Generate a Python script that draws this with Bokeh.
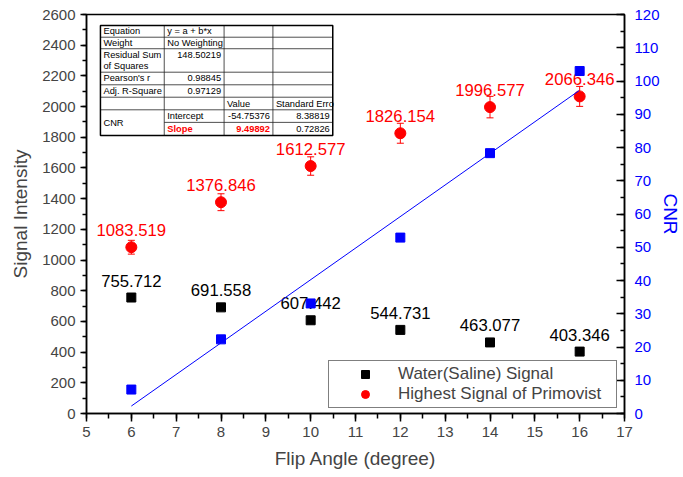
from bokeh.plotting import figure
from bokeh.models import (ColumnDataSource, Range1d, LinearAxis, Whisker, TeeHead,
                          Legend, LegendItem, SingleIntervalTicker)
from bokeh.core.properties import value
from bokeh.embed import file_html
from bokeh.resources import INLINE

# ---------------- data ----------------
flip_angle = [6, 8, 10, 12, 14, 16]
water_signal = [755.712, 691.558, 607.442, 544.731, 463.077, 403.346]
water_err = [25, 12, 10, 10, 8, 8]
primovist_signal = [1083.519, 1376.846, 1612.577, 1826.154, 1996.577, 2066.346]
primovist_err = [45, 55, 60, 65, 70, 65]
cnr = [7.2, 22.3, 33.1, 52.9, 78.3, 103.0]

fit_intercept = -54.75376
fit_slope = 9.49892
fit_intercept_err = 8.38819
fit_slope_err = 0.72826
residual_ss = "148.50219"
pearson_r = "0.98845"
adj_r2 = "0.97129"
equation = "y = a + b*x"
weighting = "No Weighting"

FONT = "Liberation Sans"
RED = "#FF0000"
BLUE = "#0000FF"

p = figure(width=683, height=477, x_range=Range1d(5, 17), y_range=Range1d(0, 2600),
           output_backend="svg", toolbar_location=None,
           min_border_left=86, min_border_right=57, min_border_top=14, min_border_bottom=64)
p.extra_y_ranges = {"cnr": Range1d(0, 120)}
p.grid.visible = False
p.outline_line_color = "black"
p.outline_line_width = 1.5
p.background_fill_color = "white"
p.border_fill_color = "white"

# ---- axes ----
xa = p.xaxis[0]
xa.ticker = SingleIntervalTicker(interval=1, num_minor_ticks=2)
xa.axis_label = "Flip Angle (degree)"
ya = p.yaxis[0]
ya.ticker = SingleIntervalTicker(interval=200, num_minor_ticks=2)
ya.axis_label = "Signal Intensity"

ra = LinearAxis(y_range_name="cnr", ticker=SingleIntervalTicker(interval=10, num_minor_ticks=2),
                axis_label="CNR")
p.add_layout(ra, "right")

for ax in (xa, ya, ra):
    ax.axis_line_width = 1.5
    ax.major_tick_line_width = 1.5
    ax.minor_tick_line_width = 1.5
    ax.axis_line_color = "black"
    ax.major_tick_line_color = "black"
    ax.minor_tick_line_color = "black"
    ax.major_label_text_font = FONT
    ax.major_label_text_font_size = "15px"
    ax.axis_label_text_font = FONT
    ax.axis_label_text_font_size = "19px"
    ax.axis_label_text_font_style = "normal"

xa.major_tick_in = 0; xa.major_tick_out = 8
xa.minor_tick_in = 0; xa.minor_tick_out = 5
xa.major_label_standoff = 5
xa.axis_label_standoff = 8

ya.major_tick_in = 0; ya.major_tick_out = 6
ya.minor_tick_in = 0; ya.minor_tick_out = 4
ya.major_label_standoff = 5
ya.axis_label_standoff = 8

ra.major_tick_in = 8; ra.major_tick_out = 0
ra.minor_tick_in = 4; ra.minor_tick_out = 0
ra.major_label_standoff = 10
ra.axis_label_standoff = -3
ra.axis_label_orientation = "vertical"
ra.major_label_text_color = BLUE
ra.axis_label_text_color = BLUE

# ---- stats table (Origin style) ----
tx = [5.311, 6.734, 8.069, 9.158, 10.493]
ty = [2528, 2452, 2377, 2224, 2142, 2061, 1979, 1897, 1812]
rc = [(ty[i] + ty[i + 1]) / 2 for i in range(8)]

p.quad(left=[tx[0]], right=[tx[4]], top=[ty[0]], bottom=[ty[8]],
       fill_color="white", line_color=None, level="underlay")
hx0, hx1, hy = [], [], []
for i in range(1, 8):
    hx0.append(tx[1] if i == 7 else tx[0]); hx1.append(tx[4]); hy.append(ty[i])
p.segment(x0=hx0, y0=hy, x1=hx1, y1=hy, line_color="#222222", line_width=0.8, level="underlay")
vx = tx[1:4]
p.segment(x0=vx, y0=[ty[0]] * 3, x1=vx, y1=[ty[8]] * 3, line_color="#222222",
          line_width=0.8, level="underlay")
p.quad(left=[tx[0]], right=[tx[4]], top=[ty[0]], bottom=[ty[8]],
       fill_color=None, line_color="black", line_width=1.5, level="underlay")

r2_up = ty[2] - (ty[2] - ty[3]) * 0.26
r2_dn = ty[2] - (ty[2] - ty[3]) * 0.75
cnr_mid = (ty[6] + ty[8]) / 2

left_txt = [(tx[0], rc[0], "Equation"), (tx[0], rc[1], "Weight"),
            (tx[0], r2_up, "Residual Sum"), (tx[0], r2_dn, "of Squares"),
            (tx[0], rc[3], "Pearson's r"), (tx[0], rc[4], "Adj. R-Square"),
            (tx[0], cnr_mid, "CNR"),
            (tx[1], rc[0], equation), (tx[1], rc[1], weighting),
            (tx[1], rc[6], "Intercept"),
            (tx[2], rc[5], "Value"), (tx[3], rc[5], "Standard Erro")]
right_txt = [(tx[2], r2_up, residual_ss), (tx[2], rc[3], pearson_r), (tx[2], rc[4], adj_r2),
             (tx[3], rc[6], f"{fit_intercept:.5f}"),
             (tx[4], rc[6], f"{fit_intercept_err:.5f}"), (tx[4], rc[7], f"{fit_slope_err:.5f}")]
red_left = [(tx[1], rc[7], "Slope")]
red_right = [(tx[3], rc[7], f"{fit_slope:.5f}")]

def table_text(items, align, color, style, off):
    p.text(x=[a for a, _, _ in items], y=[b for _, b, _ in items], text=[c for _, _, c in items],
           text_align=align, text_baseline="middle", x_offset=off,
           text_font=value(FONT), text_font_size="9.3px", text_color=color,
           text_font_style=style, level="underlay")

table_text(left_txt, "left", "black", "normal", 3)
table_text(right_txt, "right", "black", "normal", -3)
table_text(red_left, "left", RED, "bold", 3)
table_text(red_right, "right", RED, "bold", -3)

# ---- value labels ----
p.text(x=flip_angle, y=water_signal, text=[f"{v:.3f}" for v in water_signal],
       text_align="center", text_baseline="middle", y_offset=-17,
       text_font=value(FONT), text_font_size="16.7px", text_color="black", level="underlay")
p.text(x=flip_angle, y=primovist_signal, text=[f"{v:.3f}" for v in primovist_signal],
       text_align="center", text_baseline="middle", y_offset=-17,
       text_font=value(FONT), text_font_size="16.7px", text_color=RED, level="underlay")

# ---- error bars ----
wsrc = ColumnDataSource(dict(x=flip_angle,
                             lo=[v - e for v, e in zip(water_signal, water_err)],
                             hi=[v + e for v, e in zip(water_signal, water_err)]))
psrc = ColumnDataSource(dict(x=flip_angle,
                             lo=[v - e for v, e in zip(primovist_signal, primovist_err)],
                             hi=[v + e for v, e in zip(primovist_signal, primovist_err)]))
for src, col in ((wsrc, "black"), (psrc, RED)):
    w = Whisker(source=src, base="x", lower="lo", upper="hi", dimension="height",
                line_color=col, line_width=1,
                upper_head=TeeHead(size=7, line_color=col, line_width=1),
                lower_head=TeeHead(size=7, line_color=col, line_width=1),
                level="glyph")
    p.add_layout(w)

r_water = p.scatter(flip_angle, water_signal, marker="square", size=9,
                    fill_color="black", line_color="black")
r_prim = p.scatter(flip_angle, primovist_signal, marker="circle", size=11,
                   fill_color=RED, line_color=RED)

# ---- CNR linear fit and points ----
fit_x = [min(flip_angle), max(flip_angle)]
fit_y = [fit_intercept + fit_slope * x for x in fit_x]
p.line(fit_x, fit_y, line_color=BLUE, line_width=1, y_range_name="cnr")
p.scatter(flip_angle, cnr, marker="square", size=9, fill_color=BLUE, line_color=BLUE,
          y_range_name="cnr")

# ---- legend ----
legend = Legend(items=[LegendItem(label="Water(Saline) Signal", renderers=[r_water]),
                       LegendItem(label="Highest Signal of Primovist", renderers=[r_prim])],
                location=(242, 5), margin=0, padding=3, spacing=0,
                glyph_width=66, glyph_height=20, label_standoff=0, label_width=215,
                label_height=20, label_text_font=FONT, label_text_font_size="17px",
                border_line_color="black", border_line_width=1,
                background_fill_color="white", background_fill_alpha=1.0)
p.add_layout(legend)

open("out.html", "w").write(file_html(p, INLINE))
